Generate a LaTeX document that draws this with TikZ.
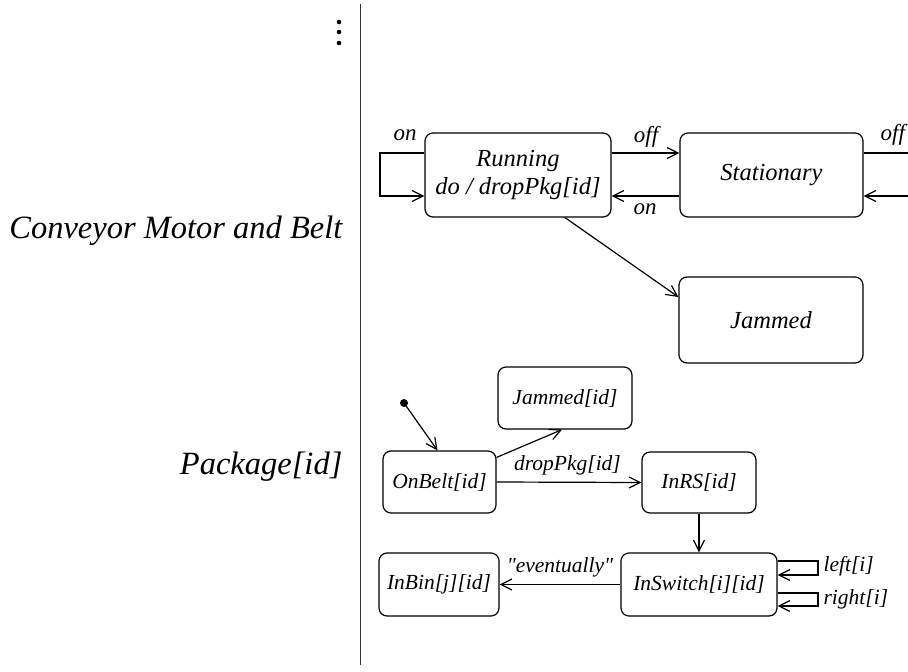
\documentclass[tikz,border=0pt]{standalone}
\usepackage{fontspec}
\setmainfont{Liberation Serif}[Ligatures=TeXOff]
\usetikzlibrary{arrows.meta,positioning,calc}

\begin{document}
\begin{tikzpicture}[x=1pt,y=-1pt,line width=1.2pt,
  state/.style={draw,rounded corners=8pt,align=center,inner sep=0pt,
    font=\fontsize{24.5}{28}\selectfont\itshape},
  pstate/.style={state,font=\fontsize{21.5}{26}\selectfont\itshape},
  arr/.style={-{Straight Barb[length=11pt,width=11pt]}},
  lbl/.style={inner sep=0pt,anchor=base,font=\fontsize{23}{27}\selectfont\itshape},
  plbl/.style={lbl,font=\fontsize{21.5}{26}\selectfont\itshape},
  side/.style={inner sep=0pt,anchor=base east,font=\fontsize{32.5}{38}\selectfont\itshape}]

  \useasboundingbox (0,0) rectangle (908,672);
  \clip (0,0) rectangle (908,672);

  % swimlane divider and the dots above
  \coordinate (divtop) at (360,4);
  \coordinate (divbot) at (360,665);
  \draw[line width=1pt,black!80] (divtop) -- (divbot);
  \foreach \y in {22,32,43} {
    \fill (339,\y) circle (2.3);
  }

  % lane names
  \node[side] (motorlane) at (343,238) {Conveyor Motor and Belt};
  \node[side] (pkglane) at (343,474) {Package[id]};

  % conveyor motor and belt
  \node[state,minimum width=186,minimum height=84] (running) at (518,175) {Running\\do / dropPkg[id]};
  \node[state,minimum width=183,minimum height=84] (stationary) at (771.5,175) {Stationary};
  \node[state,minimum width=184,minimum height=86] (jammed) at (771,320) {Jammed};

  \draw[arr] ($(running.east)+(0,-22)$) -- ($(stationary.west)+(0,-22)$);
  \draw[arr] ($(stationary.west)+(0,21)$) -- ($(running.east)+(0,21)$);
  \node[lbl] (offlbl) at (646,142) {off};
  \node[lbl] (onlbl) at (645,214) {on};

  % self loop on running
  \draw[arr] ($(running.west)+(0,-22)$) -| (380,196) -- ($(running.west)+(0,21)$);
  \node[lbl] (looplbl) at (405,140) {on};

  % towards the next state, off the page
  \coordinate (outoff) at (920,153);
  \coordinate (inon) at (920,196);
  \draw ($(stationary.east)+(0,-22)$) -- (outoff);
  \draw[arr] (inon) -- ($(stationary.east)+(0,21)$);
  \node[lbl,anchor=base west] (offlbl2) at (880,140) {off};

  \draw[arr] ($(running.south)+(47,0)$) -- ($(jammed.west)+(0,-23)$);

  % package
  \node[pstate,minimum width=113,minimum height=62] (onbelt) at (439.5,482) {OnBelt[id]};
  \node[pstate,minimum width=134,minimum height=62] (jammedid) at (565,398) {Jammed[id]};
  \node[pstate,minimum width=114,minimum height=61] (inrs) at (699,482.5) {InRS[id]};
  \node[pstate,minimum width=156,minimum height=63] (inswitch) at (699,584.5) {InSwitch[i][id]};
  \node[pstate,minimum width=120,minimum height=63] (inbin) at (439,584.5) {InBin[j][id]};

  \fill (404,403) circle (4) coordinate (init);
  \draw[arr] (init) -- ($(onbelt.north)+(-2,0)$);
  \draw[arr] ($(onbelt.north east)+(0,7)$) -- ($(jammedid.south)+(-3,0)$);
  \draw[arr] (onbelt.east) -- (inrs.west);
  \node[plbl] (droplbl) at (567.5,470) {dropPkg[id]};
  \draw[arr] (inrs.south) -- (inswitch.north);
  \draw[arr] (inswitch.west) -- (inbin.east);
  \node[plbl] (evlbl) at (560,572) {"eventually"};

  % switch loops
  \draw[arr] ($(inswitch.east)+(0,-23.5)$) -| (818,575) -- ($(inswitch.east)+(0,-9.5)$);
  \draw[arr] ($(inswitch.east)+(0,8.5)$) -| (818,606) -- ($(inswitch.east)+(0,21.5)$);
  \node[plbl,anchor=base west] (leftlbl) at (823,571) {left[i]};
  \node[plbl,anchor=base west] (rightlbl) at (823,604) {right[i]};

\end{tikzpicture}
\end{document}
